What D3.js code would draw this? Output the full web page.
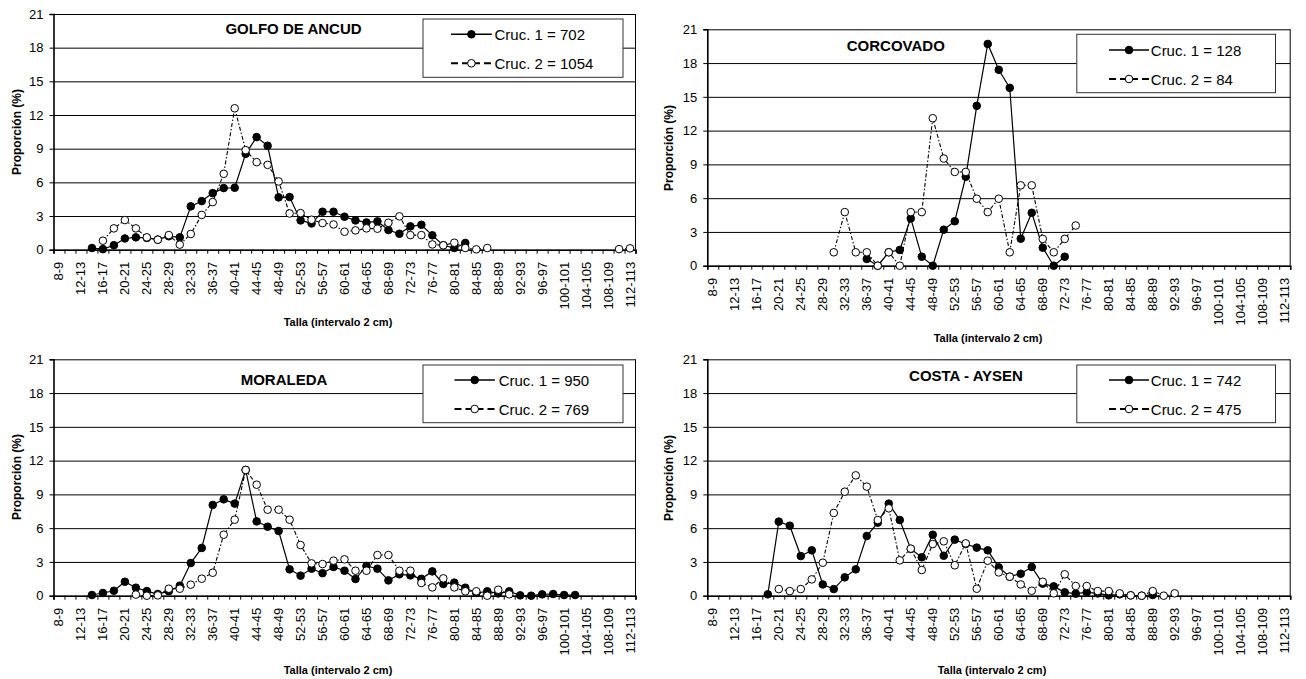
<!DOCTYPE html>
<html>
<head>
<meta charset="utf-8">
<script src="https://cdn.jsdelivr.net/npm/d3@7"></script>
<style>
  body { margin: 0; background: #fff; }
  svg { display: block; }
  text { font-family: Arial, "Liberation Sans", sans-serif; fill: #000; }
</style>
</head>
<body>
<svg id="chart" width="1306" height="679"></svg>
<script>
// Size classes (2 cm intervals)
const tallas = ["8-9","10-11","12-13","14-15","16-17","18-19","20-21","22-23","24-25","26-27",
  "28-29","30-31","32-33","34-35","36-37","38-39","40-41","42-43","44-45","46-47","48-49",
  "50-51","52-53","54-55","56-57","58-59","60-61","62-63","64-65","66-67","68-69","70-71",
  "72-73","74-75","76-77","78-79","80-81","82-83","84-85","86-87","88-89","90-91","92-93",
  "94-95","96-97","98-99","100-101","102-103","104-105","106-107","108-109","110-111","112-113"];

// Every second class is labelled on the x axis
const tallaLabels = tallas.filter((t, i) => i % 2 === 0);
const yTicks = [0, 3, 6, 9, 12, 15, 18, 21];

const zonas = ["GOLFO DE ANCUD", "CORCOVADO", "MORALEDA", "COSTA - AYSEN"];
const nCruc1 = [702, 128, 950, 742];
const nCruc2 = [1054, 84, 769, 475];

// Proportions (%) per size class; each array starts at the class given in *Start
const golfoCruc1Start = "14-15";
const golfoCruc1 = [0.15, 0.05, 0.4, 1.0, 1.1, 1.05, 0.9, 1.2, 1.1, 3.86, 4.33, 5.04, 5.49, 5.52,
  8.54, 10.03, 9.26, 4.66, 4.69, 2.61, 2.34, 3.38, 3.38, 2.94, 2.61, 2.43, 2.52, 1.75, 1.42,
  2.08, 2.22, 1.28, 0.4, 0.15, 0.6];
const golfoCruc2Start = "16-17";
const golfoCruc2 = [0.8, 1.9, 2.64, 1.9, 1.1, 0.89, 1.3, 0.45, 1.4, 3.1, 4.24, 6.76, 12.6, 8.87,
  7.8, 7.56, 6.08, 3.23, 3.26, 2.67, 2.37, 2.25, 1.6, 1.72, 1.9, 1.87, 2.4, 2.97, 1.3, 1.3,
  0.47, 0.39, 0.62, 0.15, 0.03, 0.15,
  null, null, null, null, null, null, null, null, null, null, null,
  0.05, 0.12];

const corcoCruc1Start = "36-37";
const corcoCruc1 = [0.6, 0, 1.2, 1.4, 4.2, 0.8, 0, 3.2, 3.95, 7.9, 14.2, 19.7, 17.4, 15.8,
  2.4, 4.7, 1.6, 0, 0.8];
const corcoCruc2Start = "30-31";
const corcoCruc2 = [1.19, 4.76, 1.19, 1.19, 0, 1.19, 0, 4.76, 4.76, 13.1, 9.52, 8.33, 8.33,
  5.95, 4.76, 5.95, 1.19, 7.14, 7.14, 2.38, 1.19, 2.38, 3.57];

const moraCruc1Start = "14-15";
const moraCruc1 = [0.06, 0.24, 0.44, 1.24, 0.71, 0.41, 0.15, 0.4, 0.89, 2.9, 4.24, 8.06, 8.56,
  8.18, 11.17, 6.6, 6.13, 5.75, 2.34, 1.78, 2.4, 2.0, 2.55, 2.22, 1.48, 2.64, 2.4, 1.36, 1.9,
  1.8, 1.5, 2.16, 1.04, 1.16, 0.71, 0.24, 0.39, 0.2, 0.39, 0.03, 0, 0.12, 0.15, 0.06, 0.06];
const moraCruc2Start = "22-23";
const moraCruc2 = [0.1, 0, 0.03, 0.62, 0.62, 0.98, 1.51, 2.04, 5.42, 6.75, 11.17, 9.86, 7.64,
  7.64, 6.75, 4.5, 2.87, 2.81, 3.11, 3.23, 2.22, 2.22, 3.61, 3.61, 2.22, 2.22, 1.13, 0.74,
  1.54, 0.74, 0.39, 0.39, 0, 0.53, 0.12];

const aysenCruc1Start = "18-19";
const aysenCruc1 = [0.12, 6.58, 6.22, 3.52, 4.03, 1.0, 0.59, 1.63, 2.34, 5.3, 6.49, 8.18, 6.72,
  4.15, 3.41, 5.42, 3.55, 4.98, 4.59, 4.27, 4.03, 2.52, 1.69, 1.95, 2.55, 1.07, 0.83, 0.3,
  0.18, 0.3, 0.2, 0.03, 0.12, 0.03, 0, 0.06];
const aysenCruc2Start = "20-21";
const aysenCruc2 = [0.59, 0.41, 0.59, 1.45, 2.93, 7.35, 9.24, 10.69, 9.69, 6.72, 7.76, 3.14,
  4.18, 2.28, 4.59, 4.83, 2.7, 4.65, 0.62, 3.11, 2.07, 1.69, 1.0, 0.44, 1.24, 0.21, 1.9,
  0.86, 0.86, 0.41, 0.41, 0.21, 0.03, 0, 0.41, 0, 0.21];

// Attach size classes to a run of values
function serie(start, values) {
  const i0 = tallas.indexOf(start);
  return values.map((v, k) => ({ talla: tallas[i0 + k], v }));
}

const series1 = [
  serie(golfoCruc1Start, golfoCruc1), serie(corcoCruc1Start, corcoCruc1),
  serie(moraCruc1Start, moraCruc1), serie(aysenCruc1Start, aysenCruc1)];
const series2 = [
  serie(golfoCruc2Start, golfoCruc2), serie(corcoCruc2Start, corcoCruc2),
  serie(moraCruc2Start, moraCruc2), serie(aysenCruc2Start, aysenCruc2)];

// Panel geometry
const layout = [
  { x0: 53.5, x1: 635.5, y0: 14, y1: 249.7, tx: 293.5, ty: 34, lg: [423, 19, 623, 77.3], lx: 451, lm: 471.4, lt: 494.5, ly: [34.3, 63.3], yt: [16.8, 132], xt: [338, 326] },
  { x0: 707.3, x1: 1290.2, y0: 29.3, y1: 265.7, tx: 895.8, ty: 51, lg: [1076.8, 34.3, 1275.5, 92.7], lx: 1109, lm: 1129, lt: 1150.8, ly: [50, 79], yt: [668.8, 148], xt: [988, 341.5] },
  { x0: 53.5, x1: 635.5, y0: 359.3, y1: 595.7, tx: 284, ty: 385, lg: [423, 365, 623, 422.7], lx: 454.5, lm: 474.7, lt: 498.7, ly: [380, 409], yt: [16.8, 477], xt: [338, 673.5] },
  { x0: 707.3, x1: 1290.2, y0: 359.3, y1: 595.7, tx: 966, ty: 381, lg: [1076.8, 365, 1275.5, 422.7], lx: 1109, lm: 1129, lt: 1150.8, ly: [380, 409], yt: [668.8, 478], xt: [992, 673.5] }
];

const svg = d3.select("#chart");
const R = 3.8;
const dash2 = "4,2,1.5,2";

layout.forEach((L, p) => {
  const g = svg.append("g");
  const x = d3.scaleBand().domain(tallas).range([L.x0, L.x1]).paddingInner(0).paddingOuter(0);
  const y = d3.scaleLinear().domain([0, 21]).range([L.y1, L.y0]);
  const xi = d3.scaleLinear().domain([0, tallas.length]).range([L.x0, L.x1]);

  // horizontal gridlines
  g.append("g")
    .attr("transform", `translate(${L.x0},0)`)
    .call(d3.axisLeft(y).tickValues(yTicks).tickSize(-(L.x1 - L.x0)).tickFormat(""))
    .call(a => a.select(".domain").remove())
    .call(a => a.selectAll("line").attr("stroke", "#000").attr("stroke-width", 1));

  // right border of plot area
  g.append("line").attr("x1", L.x1).attr("x2", L.x1).attr("y1", L.y0).attr("y2", L.y1)
    .attr("stroke", "#000").attr("stroke-width", 1);

  // y axis
  g.append("g")
    .attr("transform", `translate(${L.x0},0)`)
    .call(d3.axisLeft(y).tickValues(yTicks).tickSize(4).tickPadding(6))
    .call(a => a.select(".domain").attr("stroke", "#000").attr("stroke-width", 1.6))
    .call(a => a.selectAll("text").attr("font-size", 13).attr("font-family", "Arial, 'Liberation Sans', sans-serif"));

  // x axis: ticks between classes
  g.append("g")
    .attr("transform", `translate(0,${L.y1})`)
    .call(d3.axisBottom(xi).tickValues(d3.range(0, tallas.length + 1)).tickSize(4).tickFormat(""))
    .call(a => a.select(".domain").attr("stroke", "#000").attr("stroke-width", 1.6))
    .call(a => a.selectAll("line").attr("stroke", "#000"));

  // x axis labels, rotated
  g.append("g")
    .attr("transform", `translate(0,${L.y1})`)
    .call(d3.axisBottom(x).tickValues(tallaLabels).tickSize(0).tickPadding(0))
    .call(a => a.select(".domain").remove())
    .call(a => a.selectAll("text")
      .attr("font-size", 13)
      .attr("font-family", "Arial, 'Liberation Sans', sans-serif")
      .attr("text-anchor", "end")
      .attr("dy", null)
      .attr("y", 0)
      .attr("transform", "translate(0,12) rotate(-90)")
      .attr("dominant-baseline", "central"));

  // titles
  g.append("text").attr("x", L.tx).attr("y", L.ty).attr("text-anchor", "middle")
    .attr("font-size", 15).attr("font-weight", "bold").text(zonas[p]);
  g.append("text").attr("transform", `translate(${L.yt[0]},${L.yt[1]}) rotate(-90)`)
    .attr("text-anchor", "middle").attr("dominant-baseline", "central")
    .attr("font-size", 12).attr("font-weight", "bold").text("Proporción (%)");
  g.append("text").attr("x", L.xt[0]).attr("y", L.xt[1]).attr("text-anchor", "middle")
    .attr("font-size", 11).attr("font-weight", "bold").text("Talla (intervalo 2 cm)");

  const line = d3.line().defined(d => d.v != null)
    .x(d => x(d.talla) + x.bandwidth() / 2).y(d => y(d.v));

  // Cruc. 1: solid line, filled markers
  g.append("path").datum(series1[p]).attr("d", line)
    .attr("fill", "none").attr("stroke", "#000").attr("stroke-width", 1.2);
  g.append("g").selectAll("circle").data(series1[p].filter(d => d.v != null)).join("circle")
    .attr("cx", d => x(d.talla) + x.bandwidth() / 2).attr("cy", d => y(d.v)).attr("r", R)
    .attr("fill", "#000").attr("stroke", "#000");

  // Cruc. 2: dashed line, open markers
  g.append("path").datum(series2[p]).attr("d", line)
    .attr("fill", "none").attr("stroke", "#000").attr("stroke-width", 1.1)
    .attr("stroke-dasharray", dash2);
  g.append("g").selectAll("circle").data(series2[p].filter(d => d.v != null)).join("circle")
    .attr("cx", d => x(d.talla) + x.bandwidth() / 2).attr("cy", d => y(d.v)).attr("r", R)
    .attr("fill", "#fff").attr("stroke", "#000").attr("stroke-width", 1);

  // legend
  const [bx0, by0, bx1, by1] = L.lg;
  const lgd = g.append("g");
  lgd.append("rect").attr("x", bx0).attr("y", by0).attr("width", bx1 - bx0).attr("height", by1 - by0)
    .attr("fill", "#fff").attr("stroke", "#333").attr("stroke-width", 1);
  const entries = [
    { label: `Cruc. 1 = ${nCruc1[p]}`, fill: "#000", dash: null, w: 1.4 },
    { label: `Cruc. 2 = ${nCruc2[p]}`, fill: "#fff", dash: "7,4", w: 2 }
  ];
  entries.forEach((e, k) => {
    const yy = L.ly[k];
    lgd.append("line").attr("x1", L.lx).attr("x2", 2 * L.lm - L.lx).attr("y1", yy).attr("y2", yy)
      .attr("stroke", "#000").attr("stroke-width", e.w).attr("stroke-dasharray", e.dash);
    lgd.append("circle").attr("cx", L.lm).attr("cy", yy).attr("r", R)
      .attr("fill", e.fill).attr("stroke", "#000");
    lgd.append("text").attr("x", L.lt).attr("y", yy).attr("dominant-baseline", "central")
      .attr("font-size", 15).text(e.label);
  });
});
</script>
</body>
</html>
